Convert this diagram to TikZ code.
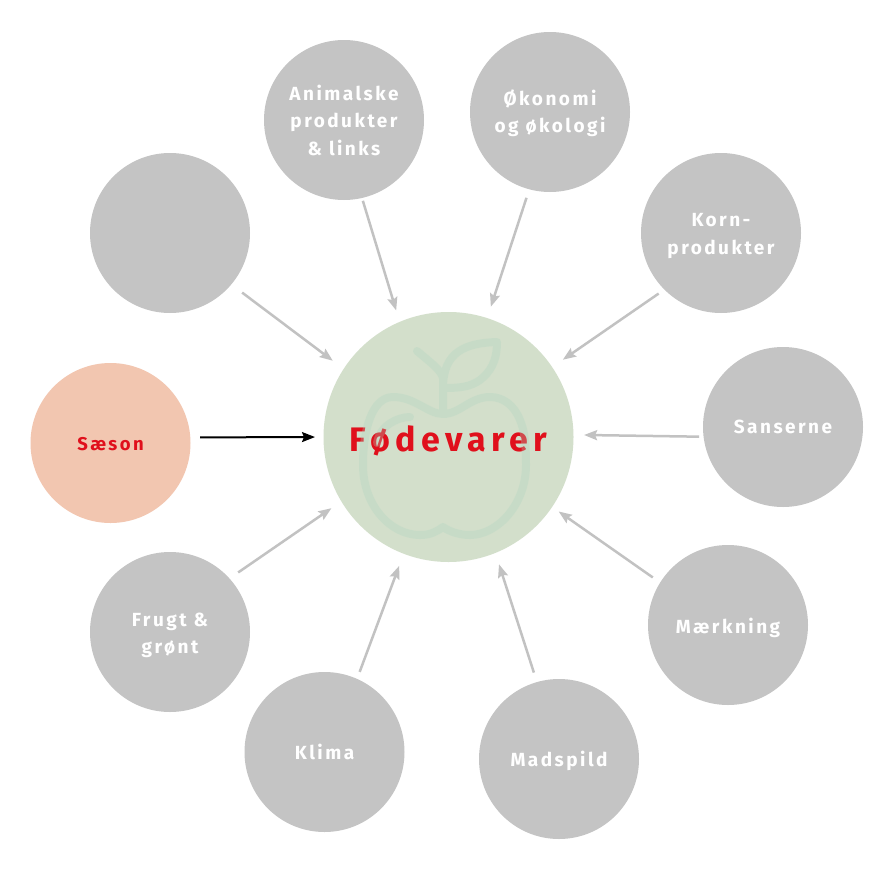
\documentclass[tikz,border=0pt]{standalone}
\usepackage{fontspec}
\setmainfont{Fira Sans}
\newfontfamily\spaced[LetterSpace=13]{Fira Sans}
\newfontfamily\spacedwide[LetterSpace=16]{Fira Sans}
\usetikzlibrary{arrows.meta}
\definecolor{topicgray}{HTML}{C4C4C4}
\definecolor{arrowgray}{HTML}{C2C2C2}
\definecolor{foodgreen}{HTML}{D3DFCB}
\definecolor{applegreen}{HTML}{AED5C1}
\definecolor{seasonpink}{HTML}{F2C6B0}
\definecolor{labelred}{HTML}{E0101C}

\begin{document}
\begin{tikzpicture}[x=1pt,y=-1pt,line width=0.75pt,
  topic/.style={circle,fill=topicgray,draw=none,minimum size=160pt,inner sep=0pt,outer sep=0pt},
  topiclabel/.style={text=white,align=center,inner sep=0pt,font=\spaced\bfseries\fontsize{19}{27.5}\selectfont},
  feed/.style 2 args={-{Stealth[length=13pt,width=10pt,inset=2pt]},draw=arrowgray,line width=2.5pt,
    shorten <=#1pt,shorten >=#2pt}]
  \fill[white] (0,0) rectangle (886,886);

  \node[topic] (anim) at (344,120) {};
  \node[topic] (oko) at (550,112) {};
  \node[topic] (korn) at (721,233) {};
  \node[topic] (sans) at (783,427) {};
  \node[topic] (maerk) at (728,625) {};
  \node[topic] (mads) at (559,759) {};
  \node[topic] (klima) at (324.5,752) {};
  \node[topic] (frugt) at (170,632) {};
  \node[topic] (blank) at (170,233) {};
  \node[topic,fill=seasonpink] (saeson) at (110.5,443) {};
  \node[circle,fill=foodgreen,minimum size=250pt,inner sep=0pt,outer sep=0pt] (food) at (448.5,437) {};

  \node[topiclabel] (animtext) at (anim) {Animalske\\produkter\\\& links};
  \node[topiclabel,yshift=-1pt] (okotext) at (oko) {Økonomi\\og økologi};
  \node[topiclabel,yshift=-3pt] (korntext) at (korn) {Korn-\\produkter};
  \node[topiclabel] (sanstext) at (sans) {Sanserne};
  \node[topiclabel,yshift=-3pt] (maerktext) at (maerk) {Mærkning};
  \node[topiclabel,yshift=-2pt] (madstext) at (mads) {Madspild};
  \node[topiclabel] (klimatext) at (klima) {Klima};
  \node[topiclabel,yshift=-3.5pt] (frugttext) at (frugt) {Frugt \&\\grønt};
  \node[topiclabel,text=labelred,yshift=-1pt,font=\spaced\bfseries\fontsize{18.5}{20}\selectfont]
    (saesontext) at (saeson) {Sæson};
  \node[topiclabel,text=labelred,yshift=-4pt,font=\spacedwide\bfseries\fontsize{34}{36}\selectfont]
    (foodtext) at (food) {Fødevarer};

  % apple on top of the label, it tints the red
  \draw[applegreen,opacity=0.3,line width=8pt,line cap=round,line join=round]
    (443,414) .. controls (428,414) and (415,397) .. (393,397)
    .. controls (372,397) and (363,430) .. (363,465)
    .. controls (363,505) and (390,535) .. (420,535)
    .. controls (430,535) and (436,532) .. (443,527)
    .. controls (450,532) and (460,535) .. (470,535)
    .. controls (497,535) and (526,505) .. (526,465)
    .. controls (526,440) and (524,430) .. (520,420)
    .. controls (514,405) and (503,397) .. (490,397)
    .. controls (470,397) and (460,414) .. (443,414)
    (443,410) -- (443,378) .. controls (441,370) and (430,362) .. (417,351)
    (443,388) .. controls (443,352) and (465,343) .. (497,342)
    .. controls (497,362) and (490,372) .. (480,380) .. controls (470,387) and (460,388) .. (443,388)
    (410,417) .. controls (398,417) and (380,425) .. (377,443);

  \draw[feed={3}{12}] (anim.-77.5) -- (food.113.4);
  \draw[feed={9}{12}] (oko.-105) -- (food.72.4);
  \draw[feed={7}{13}] (korn.-135.5) -- (food.34.3);
  \draw[feed={4.5}{10.6}] (sans.-173.9) -- (food.1.7);
  \draw[feed={9}{8}] (maerk.148.3) -- (food.-34.8);
  \draw[feed={10}{12}] (mads.106.8) -- (food.-68.3);
  \draw[feed={7.5}{13}] (klima.66) -- (food.-111.9);
  \draw[feed={10.6}{12}] (frugt.42.3) -- (food.-149.2);
  \draw[feed={13.6}{13.6}] (blank.-40.7) -- (food.147.2);
  \draw[feed={9.7}{8.5},draw=black,line width=2pt] (saeson.4.3) -- (food.180);
\end{tikzpicture}
\end{document}
